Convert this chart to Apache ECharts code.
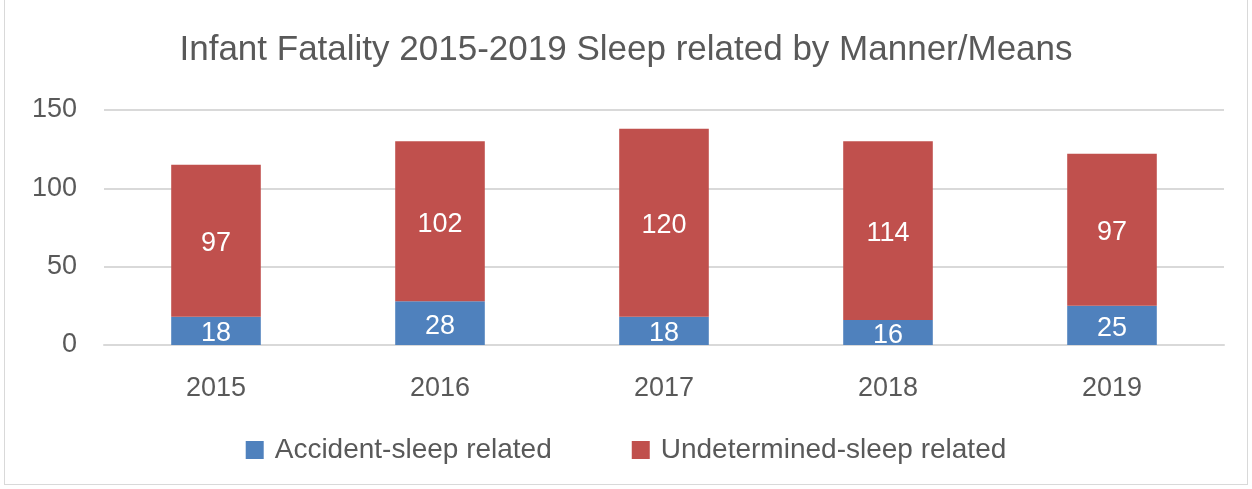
<!DOCTYPE html>
<html lang="en" style="height: 100%">
<head>
  <meta charset="utf-8">
  <title>Infant Fatality 2015-2019 Sleep related by Manner/Means</title>
</head>
<body style="height: 100%; margin: 0">
  <div id="container" style="position: absolute; left: 4px; top: -2px; width: 1244px; height: 487px; border: 1px solid #d9d9d9; box-sizing: border-box"></div>
  <script type="text/javascript" src="https://fastly.jsdelivr.net/npm/echarts@6.0.0/dist/echarts.min.js"></script>
  <script type="text/javascript">
    const years = ['2015', '2016', '2017', '2018', '2019'];
    const accident = [18, 28, 18, 16, 25];
    const undetermined = [97, 102, 120, 114, 97];

    const font = '"Liberation Sans", "Noto Sans", sans-serif';
    const textColor = '#595959';

    var myChart = echarts.init(document.getElementById('container'), null, {
      renderer: 'canvas'
    });

    var option = {
      animation: false,
      title: {
        text: 'Infant Fatality 2015-2019 Sleep related by Manner/Means',
        left: 'center',
        top: 29,
        textStyle: {
          fontFamily: font,
          fontSize: 35,
          fontWeight: 'normal',
          color: textColor
        }
      },
      legend: {
        bottom: 15,
        left: 'center',
        itemWidth: 18,
        itemHeight: 18,
        itemGap: 80,
        icon: 'rect',
        textStyle: {
          fontFamily: font,
          fontSize: 28,
          color: textColor,
          padding: [0, 0, 0, 6]
        },
        data: ['Accident-sleep related', 'Undetermined-sleep related']
      },
      grid: {
        left: 99,
        right: 23,
        top: 111,
        bottom: 139,
        containLabel: false
      },
      xAxis: {
        type: 'category',
        data: years,
        axisTick: { show: false },
        axisLine: { lineStyle: { color: '#d9d9d9', width: 2 } },
        axisLabel: {
          fontFamily: font,
          fontSize: 27,
          color: textColor,
          margin: 30
        }
      },
      yAxis: {
        type: 'value',
        min: 0,
        max: 150,
        interval: 50,
        axisLine: { show: false },
        axisTick: { show: false },
        splitLine: { lineStyle: { color: '#d9d9d9', width: 2 } },
        axisLabel: {
          fontFamily: font,
          fontSize: 27,
          color: textColor,
          margin: 27
        }
      },
      series: [
        {
          name: 'Accident-sleep related',
          type: 'bar',
          stack: 'total',
          barWidth: '40%',
          data: accident,
          itemStyle: { color: '#4F81BD' },
          label: {
            show: true,
            position: 'inside',
            fontFamily: font,
            fontSize: 27,
            color: '#ffffff',
            offset: [0, 3]
          }
        },
        {
          name: 'Undetermined-sleep related',
          type: 'bar',
          stack: 'total',
          barWidth: '40%',
          data: undetermined,
          itemStyle: { color: '#C0504D' },
          label: {
            show: true,
            position: 'inside',
            fontFamily: font,
            fontSize: 27,
            color: '#ffffff',
            offset: [0, 3]
          }
        }
      ]
    };

    myChart.setOption(option);
    window.addEventListener('resize', myChart.resize);
  </script>
</body>
</html>
